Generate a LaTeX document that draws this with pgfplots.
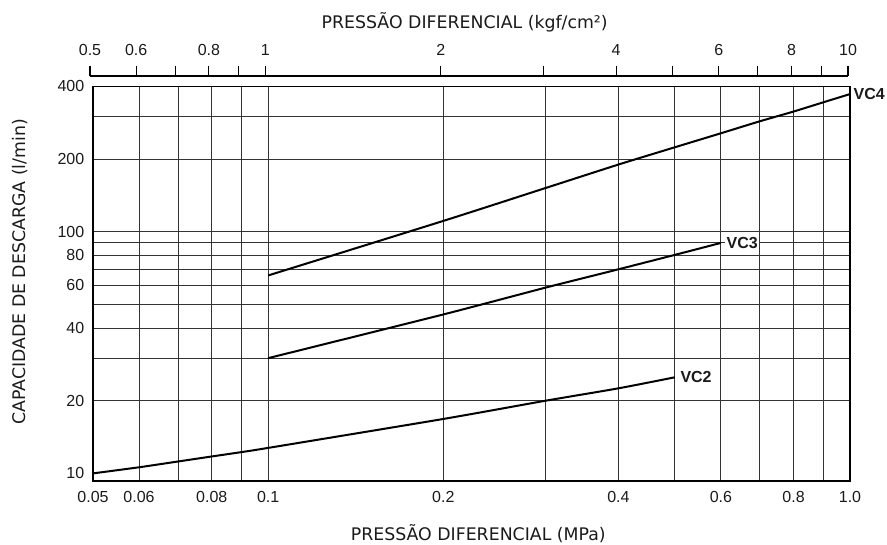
\documentclass[border=0pt]{standalone}
\usepackage{pgfplots}
\pgfplotsset{compat=1.18}
\usepackage{fontspec}
\setmainfont{Liberation Sans}
\newfontfamily\titlefont{DejaVu Sans}
\definecolor{ink}{HTML}{1A1A1A}
\definecolor{gridc}{HTML}{333333}

\begin{document}
\begin{tikzpicture}
\path[use as bounding box] (-69.75pt,-48pt) rectangle (595.5pt,360.75pt);
\begin{axis}[
  at={(0pt,0pt)}, anchor=south west,
  scale only axis, width=567.75pt, height=295.9pt,
  xmode=log, ymode=log,
  xmin=0.05, xmax=1, ymin=9.3, ymax=400,
  clip=false,
  xtick={0.05,0.06,0.07,0.08,0.09,0.1,0.2,0.3,0.4,0.5,0.6,0.7,0.8,0.9,1},
  xticklabels={0.05,0.06,,0.08,,0.1,0.2,,0.4,,0.6,,0.8,,1.0},
  ytick={20,30,40,50,60,70,80,90,100,200,300},
  yticklabels={20,,40,,60,,80,,100,200,},
  extra y ticks={10,400},
  extra y tick labels={10,400},
  extra y tick style={grid=none},
  grid=major,
  grid style={gridc, line width=0.7pt},
  major tick length=0pt,
  axis line style={black, line width=1.1pt},
  tick label style={font=\fontsize{12}{14}\selectfont, text=ink},
  xticklabel style={anchor=center, yshift=-12pt},
  yticklabel style={anchor=east, xshift=-3pt},
  xlabel={PRESSÃO DIFERENCIAL (MPa)},
  xlabel style={at={(axis description cs:0.509,-0.134)}, anchor=center, font=\titlefont\fontsize{13}{15}\selectfont, text=ink},
  ylabel={CAPACIDADE DE DESCARGA (l/min)},
  ylabel style={at={(axis description cs:-0.0965,0.53)}, anchor=center, font=\titlefont\fontsize{13}{15}\selectfont, text=ink},
  title={PRESSÃO DIFERENCIAL (kgf/cm²)},
  title style={at={(axis description cs:0.491,1.1255)}, anchor=base, font=\titlefont\fontsize{13}{15}\selectfont, text=ink},
]
\addplot[black, line width=1.5pt, smooth, tension=0.4] coordinates {
  (0.1,66) (0.2,111) (0.3,152) (0.4,190) (0.5,224) (0.6,256) (0.7,287) (0.8,315) (0.9,344) (1.0,372)
} node[pos=1, anchor=west, xshift=1pt, font=\bfseries\fontsize{12}{14}\selectfont, text=ink, fill=white, inner sep=1pt] {VC4};
\addplot[black, line width=1.5pt, smooth, tension=0.4] coordinates {
  (0.1,30) (0.2,45.5) (0.3,58.8) (0.4,70) (0.5,80.3) (0.6,90)
} node[pos=1, anchor=west, xshift=2.5pt, font=\bfseries\fontsize{12}{14}\selectfont, text=ink, fill=white, inner sep=1pt] {VC3};
\addplot[black, line width=1.5pt, smooth, tension=0.4] coordinates {
  (0.05,10) (0.06,10.6) (0.07,11.2) (0.08,11.75) (0.09,12.25) (0.1,12.75) (0.2,16.8) (0.3,20) (0.4,22.5) (0.5,25)
} node[pos=1, anchor=west, xshift=2.5pt, font=\bfseries\fontsize{12}{14}\selectfont, text=ink, fill=white, inner sep=1pt] {VC2};
\end{axis}
\begin{axis}[
  at={(-2.25pt,303.75pt)}, anchor=south west,
  scale only axis, width=568.5pt, height=15pt,
  xmode=log, xmin=0.5, xmax=10, ymin=0, ymax=1,
  axis x line*=bottom, axis y line=none,
  xtick={0.5,0.6,0.7,0.8,0.9,1,2,3,4,5,6,7,8,9,10},
  xticklabels={0.5,0.6,,0.8,,1,2,,4,,6,,8,,10},
  minor xtick={},
  tick align=inside, major tick length=7.5pt,
  tick style={black, line width=0.8pt},
  x axis line style={-, black, line width=0.8pt},
  tick label style={font=\fontsize{12}{14}\selectfont, text=ink},
  xticklabel style={anchor=center, yshift=19.5pt},
]
\end{axis}
\end{tikzpicture}
\end{document}
